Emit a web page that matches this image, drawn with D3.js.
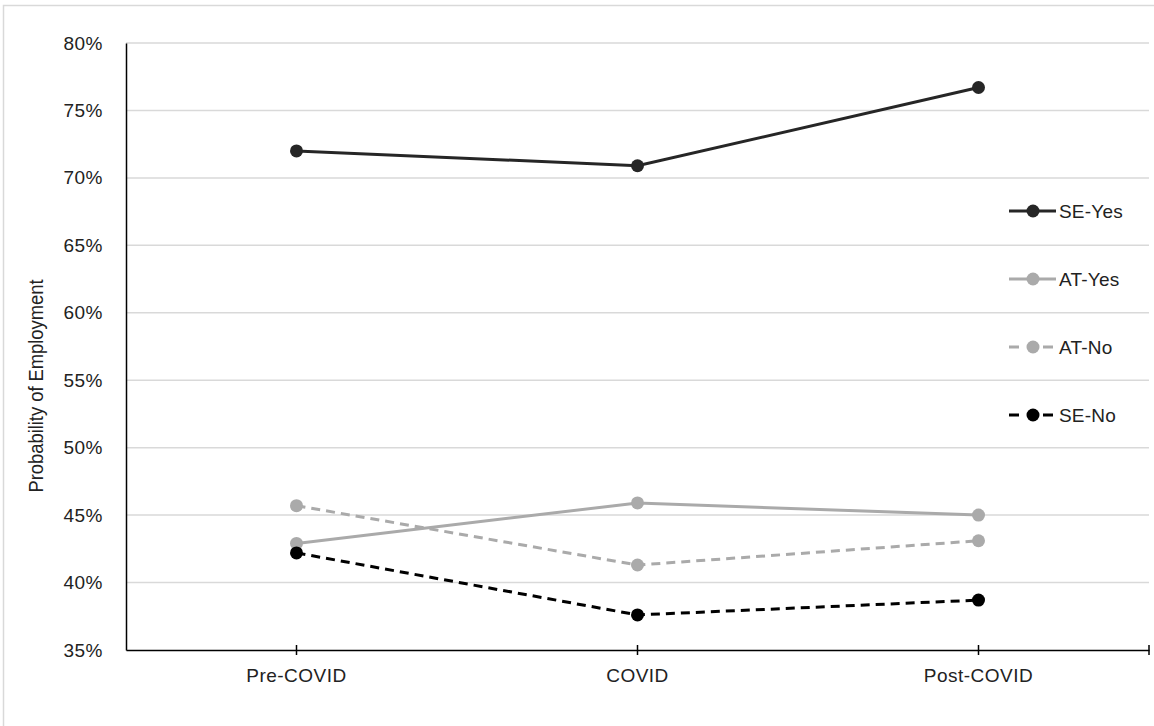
<!DOCTYPE html>
<html lang="en">
<head>
    <meta charset="UTF-8">
    <title>Probability of Employment</title>
    <script src="https://d3js.org/d3.v7.min.js"></script>
    <style>
        body { margin: 0; background: #fff; }
        text { font-family: "Liberation Sans", Arial, sans-serif; fill: #222; }
    </style>
</head>
<body>
    <div id="chart"></div>

    <script>
        // periods on the x axis
        const periods = ["Pre-COVID", "COVID", "Post-COVID"];

        // probability of employment per group (%)
        const seYes = [72.0, 70.9, 76.7];
        const atYes = [42.9, 45.9, 45.0];
        const atNo = [45.7, 41.3, 43.1];
        const seNo = [42.2, 37.6, 38.7];

        const yTicks = [35, 40, 45, 50, 55, 60, 65, 70, 75, 80];

        const series = [
            { name: "SE-Yes", values: seYes, color: "#262626", dash: null },
            { name: "AT-Yes", values: atYes, color: "#aaaaaa", dash: null },
            { name: "AT-No", values: atNo, color: "#aaaaaa", dash: "9,6" },
            { name: "SE-No", values: seNo, color: "#000000", dash: "9,6" }
        ];

        const width = 1154, height = 726;
        const margin = {top: 43, right: 5, bottom: 76, left: 126};
        const fontSize = 19, spacing = 0.5;

        const svg = d3.select("#chart")
            .append("svg")
            .attr("width", width)
            .attr("height", height);

        // outer frame
        svg.append("path")
            .attr("d", `M3.5,${height} V5.5 H${width}`)
            .attr("fill", "none")
            .attr("stroke", "#d9d9d9")
            .attr("stroke-width", 1.5);

        const x = d3.scaleBand()
            .domain(periods)
            .range([margin.left, width - margin.right]);

        const y = d3.scaleLinear()
            .domain([35, 80])
            .range([height - margin.bottom, margin.top]);

        // gridlines
        svg.append("g")
            .selectAll("line")
            .data(yTicks.slice(1))
            .join("line")
            .attr("x1", margin.left)
            .attr("x2", width - margin.right)
            .attr("y1", d => y(d))
            .attr("y2", d => y(d))
            .attr("stroke", "#d9d9d9")
            .attr("stroke-width", 1.5);

        // y axis
        const yAxis = svg.append("g")
            .attr("transform", `translate(${margin.left},0)`)
            .call(d3.axisLeft(y).tickValues(yTicks).tickSize(0).tickPadding(23).tickFormat(d => d + "%"));
        yAxis.select(".domain").attr("stroke", "#000").attr("stroke-width", 1.5);
        yAxis.selectAll("text").attr("font-size", fontSize).attr("letter-spacing", spacing)
            .attr("fill", "#222").attr("font-family", "Liberation Sans, Arial, sans-serif");

        // x axis
        const xAxis = svg.append("g")
            .attr("transform", `translate(0,${y(35)})`)
            .call(d3.axisBottom(x).tickSize(0).tickPadding(19));
        xAxis.select(".domain").attr("stroke", "#000").attr("stroke-width", 1.5);
        xAxis.selectAll("text").attr("font-size", fontSize).attr("letter-spacing", spacing)
            .attr("fill", "#222").attr("font-family", "Liberation Sans, Arial, sans-serif");

        // tick marks at category centres and at the end of the axis
        const tickXs = periods.map(p => x(p) + x.bandwidth() / 2).concat([width - margin.right]);
        svg.append("g")
            .selectAll("line")
            .data(tickXs)
            .join("line")
            .attr("x1", d => d)
            .attr("x2", d => d)
            .attr("y1", y(35) - 5)
            .attr("y2", y(35) + 5)
            .attr("stroke", "#000")
            .attr("stroke-width", 1.5);

        // y axis title (condensed)
        svg.append("text")
            .attr("transform", "translate(43,386) rotate(-90)")
            .attr("text-anchor", "middle")
            .attr("font-size", 20)
            .attr("textLength", 213)
            .attr("lengthAdjust", "spacingAndGlyphs")
            .text("Probability of Employment");

        const cx = (d, i) => x(periods[i]) + x.bandwidth() / 2;

        const line = d3.line()
            .x((d, i) => cx(d, i))
            .y(d => y(d));

        // draw back to front
        const order = [series[1], series[2], series[3], series[0]];
        order.forEach(s => {
            svg.append("path")
                .datum(s.values)
                .attr("fill", "none")
                .attr("stroke", s.color)
                .attr("stroke-width", 3)
                .attr("stroke-dasharray", s.dash)
                .attr("d", line);

            svg.append("g")
                .selectAll("circle")
                .data(s.values)
                .join("circle")
                .attr("cx", (d, i) => cx(d, i))
                .attr("cy", d => y(d))
                .attr("r", 6.5)
                .attr("fill", s.color);
        });

        // legend
        const legend = svg.append("g").attr("transform", "translate(1009,211)");
        series.forEach((s, i) => {
            const g = legend.append("g").attr("transform", `translate(0,${i * 68})`);
            g.append("line")
                .attr("x1", 0).attr("x2", s.dash ? 44 : 47)
                .attr("y1", 0).attr("y2", 0)
                .attr("stroke", s.color)
                .attr("stroke-width", 3)
                .attr("stroke-dasharray", s.dash ? "10,24,10" : null);
            g.append("circle")
                .attr("cx", 24).attr("cy", 0).attr("r", 6.5)
                .attr("fill", s.color);
            g.append("text")
                .attr("x", 50).attr("y", 0)
                .attr("dy", "0.35em")
                .attr("font-size", fontSize)
                .attr("letter-spacing", 0.2)
                .text(s.name);
        });
    </script>
</body>
</html>
